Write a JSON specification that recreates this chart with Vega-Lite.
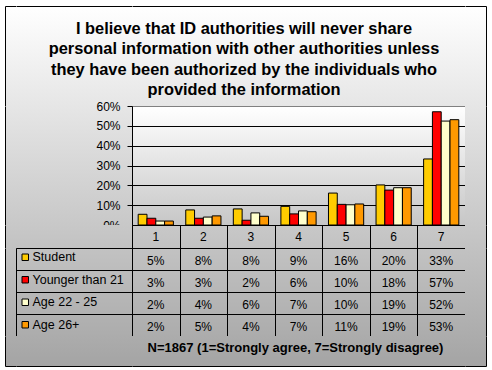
{
  "$schema": "https://vega.github.io/schema/vega-lite/v6.json",
  "background": "white",
  "padding": {"left": 5, "top": 0, "right": 6, "bottom": 5},
  "config": {
    "font": "Liberation Sans",
    "view": {"stroke": null},
    "axis": {"labelColor": "black", "labelFontSize": 12, "tickColor": "black", "domainColor": "black", "titleColor": "black"}
  },
  "datasets": {
    "survey": [
      {"cat": "1", "series": "Student", "value": 0.054},
      {"cat": "2", "series": "Student", "value": 0.076},
      {"cat": "3", "series": "Student", "value": 0.081},
      {"cat": "4", "series": "Student", "value": 0.094},
      {"cat": "5", "series": "Student", "value": 0.161},
      {"cat": "6", "series": "Student", "value": 0.202},
      {"cat": "7", "series": "Student", "value": 0.333},
      {"cat": "1", "series": "Younger than 21", "value": 0.034},
      {"cat": "2", "series": "Younger than 21", "value": 0.034},
      {"cat": "3", "series": "Younger than 21", "value": 0.024},
      {"cat": "4", "series": "Younger than 21", "value": 0.056},
      {"cat": "5", "series": "Younger than 21", "value": 0.104},
      {"cat": "6", "series": "Younger than 21", "value": 0.176},
      {"cat": "7", "series": "Younger than 21", "value": 0.571},
      {"cat": "1", "series": "Age 22 - 25", "value": 0.02},
      {"cat": "2", "series": "Age 22 - 25", "value": 0.04},
      {"cat": "3", "series": "Age 22 - 25", "value": 0.061},
      {"cat": "4", "series": "Age 22 - 25", "value": 0.071},
      {"cat": "5", "series": "Age 22 - 25", "value": 0.102},
      {"cat": "6", "series": "Age 22 - 25", "value": 0.188},
      {"cat": "7", "series": "Age 22 - 25", "value": 0.524},
      {"cat": "1", "series": "Age 26+", "value": 0.02},
      {"cat": "2", "series": "Age 26+", "value": 0.046},
      {"cat": "3", "series": "Age 26+", "value": 0.044},
      {"cat": "4", "series": "Age 26+", "value": 0.067},
      {"cat": "5", "series": "Age 26+", "value": 0.106},
      {"cat": "6", "series": "Age 26+", "value": 0.188},
      {"cat": "7", "series": "Age 26+", "value": 0.531}
    ],
    "blank": [{"note": ""}]
  },
  "columns": 4,
  "spacing": 0,
  "bounds": "flush",
  "resolve": {"scale": {"color": "independent"}, "legend": {"color": "independent"}},
  "concat": [
    {
      "width": 11, "height": 100, "data": {"name": "blank"}, "mark": "text",
      "encoding": {"text": {"field": "note"},
        "x": {"datum": 0, "type": "quantitative", "axis": {"orient": "top", "title": null, "labels": false, "ticks": false, "grid": false, "domain": true, "domainColor": "black"}},
        "y": {"datum": 0, "type": "quantitative", "axis": {"orient": "left", "title": null, "labels": false, "ticks": false, "grid": false, "domain": true, "domainColor": "black"}}},
      "view": {"stroke": null, "fill": {"gradient": "linear", "x1": 0, "y1": 0, "x2": 0, "y2": 1, "stops": [{"offset": 0, "color": "#FFFFFF"}, {"offset": 1, "color": "#E6E6E6"}]}}
    },
    {
      "width": 116, "height": 100, "data": {"name": "blank"}, "mark": "text",
      "encoding": {"text": {"field": "note"},
        "x": {"datum": 0, "type": "quantitative", "axis": {"orient": "top", "title": null, "labels": false, "ticks": false, "grid": false, "domain": true, "domainColor": "black"}}},
      "view": {"stroke": null, "fill": {"gradient": "linear", "x1": 0, "y1": 0, "x2": 0, "y2": 1, "stops": [{"offset": 0, "color": "#FFFFFF"}, {"offset": 1, "color": "#E6E6E6"}]}}
    },
    {
      "width": 333, "height": 100,
      "data": {"values": [{"title": "I believe that ID authorities will never share\npersonal information with other authorities unless\nthey have been authorized by the individuals who\nprovided the information"}]},
      "mark": {"type": "text", "lineBreak": "\n", "fontSize": 16.4, "fontWeight": "bold", "lineHeight": 20.5, "baseline": "alphabetic", "dx": -54.5, "dy": -22.3, "color": "black"},
      "encoding": {"text": {"field": "title", "type": "nominal"},
        "x": {"datum": 0.5, "type": "quantitative", "scale": {"domain": [0, 1]}, "axis": {"orient": "top", "title": null, "labels": false, "ticks": false, "grid": false, "domain": true, "domainColor": "black"}}},
      "view": {"stroke": null, "fill": {"gradient": "linear", "x1": 0, "y1": 0, "x2": 0, "y2": 1, "stops": [{"offset": 0, "color": "#FFFFFF"}, {"offset": 1, "color": "#E6E6E6"}]}}
    },
    {
      "width": 21, "height": 100, "data": {"name": "blank"}, "mark": "text",
      "encoding": {"text": {"field": "note"},
        "x": {"datum": 0, "type": "quantitative", "axis": {"orient": "top", "title": null, "labels": false, "ticks": false, "grid": false, "domain": true, "domainColor": "black"}},
        "y": {"datum": 0, "type": "quantitative", "axis": {"orient": "right", "title": null, "labels": false, "ticks": false, "grid": false, "domain": true, "domainColor": "black"}}},
      "view": {"stroke": null, "fill": {"gradient": "linear", "x1": 0, "y1": 0, "x2": 0, "y2": 1, "stops": [{"offset": 0, "color": "#FFFFFF"}, {"offset": 1, "color": "#E6E6E6"}]}}
    },

    {
      "width": 11, "height": 119, "data": {"name": "blank"}, "mark": "text",
      "encoding": {"text": {"field": "note"},
        "y": {"datum": 0, "type": "quantitative", "axis": {"orient": "left", "title": null, "labels": false, "ticks": false, "grid": false, "domain": true, "domainColor": "black"}}},
      "view": {"stroke": null, "fill": {"gradient": "linear", "x1": 0, "y1": 0, "x2": 0, "y2": 1, "stops": [{"offset": 0, "color": "#E6E6E6"}, {"offset": 1, "color": "#C8C8C8"}]}}
    },
    {
      "width": 116, "height": 119, "data": {"name": "blank"}, "mark": "text",
      "encoding": {"text": {"field": "note"}},
      "view": {"stroke": null, "fill": {"gradient": "linear", "x1": 0, "y1": 0, "x2": 0, "y2": 1, "stops": [{"offset": 0, "color": "#E6E6E6"}, {"offset": 1, "color": "#C8C8C8"}]}}
    },
    {
      "width": 333, "height": 119,
      "data": {"name": "survey"},
      "mark": {"type": "bar", "stroke": "black", "strokeWidth": 1},
      "encoding": {
        "x": {"field": "cat", "type": "nominal", "scale": {"domain": ["1", "2", "3", "4", "5", "6", "7"], "paddingInner": 0.26, "paddingOuter": 0.13},
              "axis": {"title": null, "labels": false, "ticks": false, "domain": true, "grid": false}},
        "xOffset": {"field": "series", "type": "nominal", "scale": {"domain": ["Student", "Younger than 21", "Age 22 - 25", "Age 26+"], "paddingInner": 0, "paddingOuter": 0}},
        "y": {"field": "value", "type": "quantitative", "scale": {"domain": [0, 0.6], "nice": false},
              "axis": {"title": null, "values": [0, 0.1, 0.2, 0.3, 0.4, 0.5, 0.6], "format": ".0%", "grid": true,
                       "gridColor": {"condition": {"test": "datum.value > 0.55", "value": "#808080"}, "value": "black"},
                       "gridWidth": 1, "tickSize": 5, "labelPadding": 7, "labelFontSize": 12}},
        "color": {"field": "series", "type": "nominal",
                  "scale": {"domain": ["Student", "Younger than 21", "Age 22 - 25", "Age 26+"], "range": ["#FFCC00", "#FF0000", "#FFFFCC", "#FF9900"]},
                  "legend": null}
      },
      "view": {"stroke": "#808080", "fill": {"gradient": "linear", "x1": 0, "y1": 0, "x2": 0, "y2": 1, "stops": [{"offset": 0, "color": "#FFFFFF"}, {"offset": 1, "color": "#C6C6C6"}]}}
    },
    {
      "width": 21, "height": 119, "data": {"name": "blank"}, "mark": "text",
      "encoding": {"text": {"field": "note"},
        "y": {"datum": 0, "type": "quantitative", "axis": {"orient": "right", "title": null, "labels": false, "ticks": false, "grid": false, "domain": true, "domainColor": "black"}}},
      "view": {"stroke": null, "fill": {"gradient": "linear", "x1": 0, "y1": 0, "x2": 0, "y2": 1, "stops": [{"offset": 0, "color": "#E6E6E6"}, {"offset": 1, "color": "#C8C8C8"}]}}
    },

    {
      "width": 11, "height": 23, "data": {"name": "blank"}, "mark": "text",
      "encoding": {"text": {"field": "note"},
        "y": {"datum": 0, "type": "quantitative", "axis": {"orient": "left", "title": null, "labels": false, "ticks": false, "grid": false, "domain": true, "domainColor": "black"}}},
      "view": {"stroke": null, "fill": {"gradient": "linear", "x1": 0, "y1": 0, "x2": 0, "y2": 1, "stops": [{"offset": 0, "color": "#C8C8C8"}, {"offset": 1, "color": "#C2C2C2"}]}}
    },
    {
      "width": 116, "height": 23, "data": {"name": "blank"}, "mark": "text",
      "encoding": {"text": {"field": "note"}},
      "view": {"stroke": null, "fill": {"gradient": "linear", "x1": 0, "y1": 0, "x2": 0, "y2": 1, "stops": [{"offset": 0, "color": "#C8C8C8"}, {"offset": 1, "color": "#C2C2C2"}]}}
    },
    {
      "width": 333, "height": 23,
      "data": {"name": "survey"},
      "transform": [{"aggregate": [{"op": "count", "as": "n"}], "groupby": ["cat"]}],
      "mark": {"type": "text", "fontSize": 12, "color": "black"},
      "encoding": {
        "x": {"field": "cat", "type": "nominal", "scale": {"domain": ["1", "2", "3", "4", "5", "6", "7"], "paddingInner": 0, "paddingOuter": 0},
              "axis": {"title": null, "labels": false, "ticks": false, "domain": false, "grid": true, "tickBand": "extent", "gridColor": "black"}},
        "text": {"field": "cat", "type": "nominal"}
      },
      "view": {"stroke": "black", "fill": {"gradient": "linear", "x1": 0, "y1": 0, "x2": 0, "y2": 1, "stops": [{"offset": 0, "color": "#C8C8C8"}, {"offset": 1, "color": "#C2C2C2"}]}}
    },
    {
      "width": 21, "height": 23, "data": {"name": "blank"}, "mark": "text",
      "encoding": {"text": {"field": "note"},
        "y": {"datum": 0, "type": "quantitative", "axis": {"orient": "right", "title": null, "labels": false, "ticks": false, "grid": false, "domain": true, "domainColor": "black"}}},
      "view": {"stroke": null, "fill": {"gradient": "linear", "x1": 0, "y1": 0, "x2": 0, "y2": 1, "stops": [{"offset": 0, "color": "#C8C8C8"}, {"offset": 1, "color": "#C2C2C2"}]}}
    },

    {
      "width": 11, "height": 88, "data": {"name": "blank"}, "mark": "text",
      "encoding": {"text": {"field": "note"},
        "y": {"datum": 0, "type": "quantitative", "axis": {"orient": "left", "title": null, "labels": false, "ticks": false, "grid": false, "domain": true, "domainColor": "black"}}},
      "view": {"stroke": null, "fill": {"gradient": "linear", "x1": 0, "y1": 0, "x2": 0, "y2": 1, "stops": [{"offset": 0, "color": "#C2C2C2"}, {"offset": 1, "color": "#ACACAC"}]}}
    },
    {
      "width": 116, "height": 88,
      "data": {"name": "survey"},
      "transform": [{"aggregate": [{"op": "count", "as": "n"}], "groupby": ["series"]}],
      "mark": {"type": "bar", "opacity": 0},
      "encoding": {
        "y": {"field": "series", "type": "nominal", "scale": {"domain": ["Student", "Younger than 21", "Age 22 - 25", "Age 26+"], "paddingInner": 0, "paddingOuter": 0},
              "axis": {"title": null, "labels": false, "ticks": false, "domain": false, "grid": true, "tickBand": "extent", "gridColor": "black"}},
        "color": {"field": "series", "type": "nominal",
                  "scale": {"domain": ["Student", "Younger than 21", "Age 22 - 25", "Age 26+"], "range": ["#FFCC00", "#FF0000", "#FFFFCC", "#FF9900"]},
                  "legend": {"title": null, "orient": "top-left", "offset": 3, "padding": 0, "symbolType": "square", "symbolSize": 42,
                             "symbolStrokeColor": "black", "symbolStrokeWidth": 1, "symbolOpacity": 1,
                             "labelFontSize": 12.5, "labelColor": "black", "labelOffset": 1, "rowPadding": 9.5, "labelLimit": 200,
                             "encode": {"symbols": {"update": {"opacity": {"value": 1}, "fillOpacity": {"value": 1}, "stroke": {"value": "black"}, "strokeWidth": {"value": 1}}}}}}
      },
      "view": {"stroke": "black", "fill": {"gradient": "linear", "x1": 0, "y1": 0, "x2": 0, "y2": 1, "stops": [{"offset": 0, "color": "#C2C2C2"}, {"offset": 1, "color": "#ACACAC"}]}}
    },
    {
      "width": 333, "height": 88,
      "data": {"name": "survey"},
      "mark": {"type": "text", "fontSize": 12, "color": "black", "dy": 2},
      "encoding": {
        "x": {"field": "cat", "type": "nominal", "scale": {"domain": ["1", "2", "3", "4", "5", "6", "7"], "paddingInner": 0, "paddingOuter": 0},
              "axis": {"title": null, "labels": false, "ticks": false, "domain": false, "grid": true, "tickBand": "extent", "gridColor": "black"}},
        "y": {"field": "series", "type": "nominal", "scale": {"domain": ["Student", "Younger than 21", "Age 22 - 25", "Age 26+"], "paddingInner": 0, "paddingOuter": 0},
              "axis": {"title": null, "labels": false, "ticks": false, "domain": false, "grid": true, "tickBand": "extent", "gridColor": "black"}},
        "text": {"field": "value", "type": "quantitative", "format": ".0%"}
      },
      "view": {"stroke": "black", "fill": {"gradient": "linear", "x1": 0, "y1": 0, "x2": 0, "y2": 1, "stops": [{"offset": 0, "color": "#C2C2C2"}, {"offset": 1, "color": "#ACACAC"}]}}
    },
    {
      "width": 21, "height": 88, "data": {"name": "blank"}, "mark": "text",
      "encoding": {"text": {"field": "note"},
        "y": {"datum": 0, "type": "quantitative", "axis": {"orient": "right", "title": null, "labels": false, "ticks": false, "grid": false, "domain": true, "domainColor": "black"}}},
      "view": {"stroke": null, "fill": {"gradient": "linear", "x1": 0, "y1": 0, "x2": 0, "y2": 1, "stops": [{"offset": 0, "color": "#C2C2C2"}, {"offset": 1, "color": "#ACACAC"}]}}
    },

    {
      "width": 11, "height": 30, "data": {"name": "blank"}, "mark": "text",
      "encoding": {"text": {"field": "note"},
        "x": {"datum": 0, "type": "quantitative", "axis": {"orient": "bottom", "title": null, "labels": false, "ticks": false, "grid": false, "domain": true, "domainColor": "black"}},
        "y": {"datum": 0, "type": "quantitative", "axis": {"orient": "left", "title": null, "labels": false, "ticks": false, "grid": false, "domain": true, "domainColor": "black"}}},
      "view": {"stroke": null, "fill": {"gradient": "linear", "x1": 0, "y1": 0, "x2": 0, "y2": 1, "stops": [{"offset": 0, "color": "#ACACAC"}, {"offset": 1, "color": "#A4A4A4"}]}}
    },
    {
      "width": 116, "height": 30, "data": {"name": "blank"}, "mark": "text",
      "encoding": {"text": {"field": "note"},
        "x": {"datum": 0, "type": "quantitative", "axis": {"orient": "bottom", "title": null, "labels": false, "ticks": false, "grid": false, "domain": true, "domainColor": "black"}}},
      "view": {"stroke": null, "fill": {"gradient": "linear", "x1": 0, "y1": 0, "x2": 0, "y2": 1, "stops": [{"offset": 0, "color": "#ACACAC"}, {"offset": 1, "color": "#A4A4A4"}]}}
    },
    {
      "width": 333, "height": 30,
      "data": {"values": [{"note": "N=1867 (1=Strongly agree, 7=Strongly disagree)"}]},
      "mark": {"type": "text", "fontSize": 13, "fontWeight": "bold", "color": "black", "dx": -3, "dy": -3.5},
      "encoding": {"text": {"field": "note", "type": "nominal"},
        "x": {"datum": 0.5, "type": "quantitative", "scale": {"domain": [0, 1]}, "axis": {"orient": "bottom", "title": null, "labels": false, "ticks": false, "grid": false, "domain": true, "domainColor": "black"}}},
      "view": {"stroke": null, "fill": {"gradient": "linear", "x1": 0, "y1": 0, "x2": 0, "y2": 1, "stops": [{"offset": 0, "color": "#ACACAC"}, {"offset": 1, "color": "#A4A4A4"}]}}
    },
    {
      "width": 21, "height": 30, "data": {"name": "blank"}, "mark": "text",
      "encoding": {"text": {"field": "note"},
        "x": {"datum": 0, "type": "quantitative", "axis": {"orient": "bottom", "title": null, "labels": false, "ticks": false, "grid": false, "domain": true, "domainColor": "black"}},
        "y": {"datum": 0, "type": "quantitative", "axis": {"orient": "right", "title": null, "labels": false, "ticks": false, "grid": false, "domain": true, "domainColor": "black"}}},
      "view": {"stroke": null, "fill": {"gradient": "linear", "x1": 0, "y1": 0, "x2": 0, "y2": 1, "stops": [{"offset": 0, "color": "#ACACAC"}, {"offset": 1, "color": "#A4A4A4"}]}}
    }
  ]
}
